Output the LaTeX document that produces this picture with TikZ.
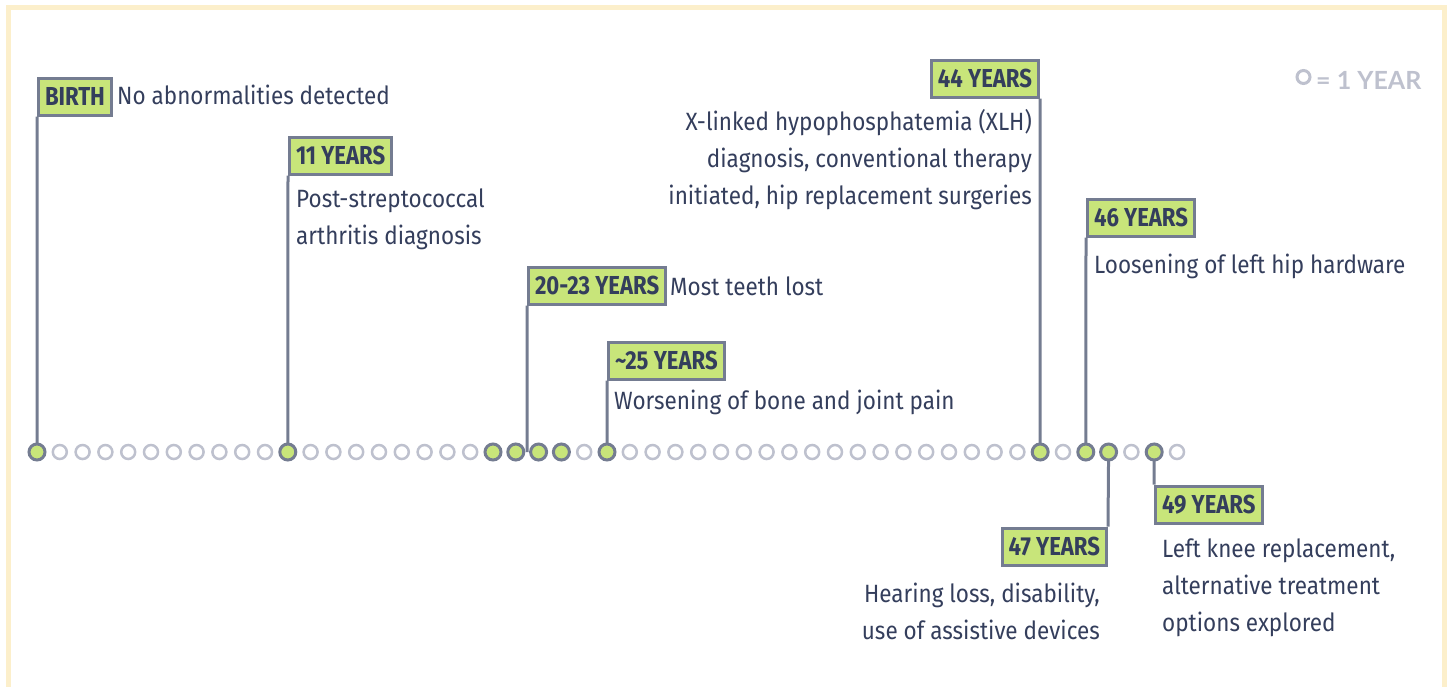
\documentclass[tikz,border=0pt]{standalone}
\usepackage{fontspec}
\usetikzlibrary{calc}
\newfontfamily\bodyfont{Fira Sans}[FakeStretch=0.9]
\newfontfamily\tagfont{Fira Sans}[FakeStretch=0.85]
\newfontfamily\keyfont{Lato}
\definecolor{ink}{HTML}{343E5C}
\definecolor{leaf}{HTML}{C8E57A}
\definecolor{edge}{HTML}{747C91}
\definecolor{ring}{HTML}{BEC1CE}
\definecolor{frame}{HTML}{FCEFCB}
\tikzset{
  tag/.style={draw=edge,fill=leaf,line width=3pt,text=ink,inner xsep=6.5pt,inner ysep=0pt,
    minimum height=37pt,text height=18pt,text depth=0pt,font=\tagfont\bfseries\fontsize{26}{26}\selectfont},
  note/.style={text=ink,inner sep=0pt,font=\bodyfont\fontsize{25}{37}\selectfont},
  stem/.style={draw=edge,line width=3pt},
  tick/.style={circle,draw=ring,line width=2.5pt,fill=white,minimum size=14pt,inner sep=0pt},
  event/.style={circle,draw=edge,line width=3pt,fill=leaf,minimum size=16pt,inner sep=0pt},
}
\begin{document}
\begin{tikzpicture}[x=1pt,y=-1pt]
\useasboundingbox (0,0) rectangle (1447,686);
\draw[frame,line width=5pt] (8.5,7.5) rectangle (1444.5,720);
\pgfmathsetmacro{\gap}{22.8} % one year
\pgfmathsetmacro{\row}{452}
\foreach \i in {0,...,50}
  \node[tick] (d\i) at ({37+\i*\gap},\row) {};
\coordinate (d2022) at ($(d21)!0.5!(d22)$);
% key
\node[tick,draw=ring,line width=3pt,minimum size=13pt] (key) at (1303.5,77) {};
\node[anchor=base west,inner sep=0pt,text=ring,font=\keyfont\bfseries\fontsize{25}{25}\selectfont] (keytext) at (1316,89) {= 1 YEAR};
% above the line
\node[tag,anchor=north west] (t0) at (37,76.5) {BIRTH};
\node[note,anchor=base west] (n0) at (117,104) {No abnormalities detected};
\node[tag,anchor=north west] (t11) at (288,135.5) {11 YEARS};
\node[note,anchor=north west,align=left] (n11) at (296,189) {Post-streptococcal\\arthritis diagnosis};
\node[tag,anchor=north west] (t20) at (527,265.5) {20-23 YEARS};
\node[note,anchor=base west] (n20) at (670,295) {Most teeth lost};
\node[tag,anchor=north west] (t25) at (607,340.5) {\textasciitilde25 YEARS};
\node[note,anchor=base west] (n25) at (614,409) {Worsening of bone and joint pain};
\node[tag,anchor=north east] (t44) at (1040,58.5) {44 YEARS};
\node[note,anchor=north east,align=right] (n44) at (1032,109) {X-linked hypophosphatemia (XLH)\\diagnosis, conventional therapy\\initiated, hip replacement surgeries};
\node[tag,anchor=north west] (t46) at (1086,197.5) {46 YEARS};
\node[note,anchor=base west] (n46) at (1094,273) {Loosening of left hip hardware};
% below the line
\node[tag,anchor=north east] (t47) at (1108,526.5) {47 YEARS};
\node[note,anchor=north east,align=right] (n47) at (1100,583) {Hearing loss, disability,\\use of assistive devices};
\node[tag,anchor=north west] (t49) at (1154,484.5) {49 YEARS};
\node[note,anchor=north west,align=left] (n49) at (1162,539) {Left knee replacement,\\alternative treatment\\options explored};
\draw[stem] (t0.south west) -- (d0.center)
  (t11.south west) -- (d11.center)
  (t20.south west) -- (d2022)
  (t25.south west) -- (d25.center)
  (t44.south east) -- (d44.center)
  (t46.south west) -- (d46.center)
  (d47.center) -- (t47.north east)
  (d49.center) -- (t49.north west);
\foreach \i in {0,11,20,21,22,23,25,44,46,47,49}
  \node[event] (e\i) at (d\i) {};
\end{tikzpicture}
\end{document}
